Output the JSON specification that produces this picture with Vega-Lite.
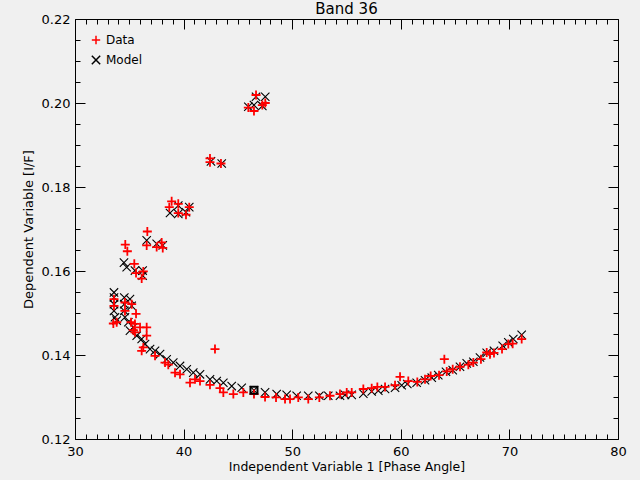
{
  "$schema": "https://vega.github.io/schema/vega-lite/v6.json",
  "description": "Band 36: measured I/F (Data) and fitted values (Model) against phase angle, IDL-style boxed plot.",
  "width": 543,
  "height": 420,
  "autosize": "none",
  "padding": {"left": 75, "top": 19, "right": 22, "bottom": 41},
  "background": "#f0f0f0",
  "title": {"text": "Band 36", "font": "DejaVu Sans", "fontSize": 15, "fontWeight": "normal", "color": "black", "offset": -4},
  "config": {
    "view": {"stroke": "black", "strokeWidth": 1},
    "axis": {
      "domain": false,
      "grid": false,
      "labelFont": "DejaVu Sans",
      "labelFontSize": 13,
      "labelColor": "black",
      "tickColor": "black",
      "tickWidth": 1,
      "titleFont": "DejaVu Sans",
      "titleFontSize": 13,
      "titleFontWeight": "normal",
      "titleColor": "black"
    }
  },
  "datasets": {
    "pts": [
      {"angle": 45.96, "iof": 0.1991, "series": "Model"},
      {"angle": 46.48, "iof": 0.1995, "series": "Model"},
      {"angle": 46.67, "iof": 0.2015, "series": "Model"},
      {"angle": 47.25, "iof": 0.1993, "series": "Model"},
      {"angle": 47.52, "iof": 0.2015, "series": "Model"},
      {"angle": 42.52, "iof": 0.1861, "series": "Model"},
      {"angle": 43.51, "iof": 0.1856, "series": "Model"},
      {"angle": 38.75, "iof": 0.1738, "series": "Model"},
      {"angle": 39.51, "iof": 0.1756, "series": "Model"},
      {"angle": 39.51, "iof": 0.1736, "series": "Model"},
      {"angle": 40.22, "iof": 0.1740, "series": "Model"},
      {"angle": 40.52, "iof": 0.1752, "series": "Model"},
      {"angle": 36.60, "iof": 0.1673, "series": "Model"},
      {"angle": 37.52, "iof": 0.1665, "series": "Model"},
      {"angle": 38.08, "iof": 0.1661, "series": "Model"},
      {"angle": 34.51, "iof": 0.1620, "series": "Model"},
      {"angle": 34.76, "iof": 0.1609, "series": "Model"},
      {"angle": 35.52, "iof": 0.1601, "series": "Model"},
      {"angle": 36.23, "iof": 0.1601, "series": "Model"},
      {"angle": 36.23, "iof": 0.1589, "series": "Model"},
      {"angle": 33.59, "iof": 0.1549, "series": "Model"},
      {"angle": 33.59, "iof": 0.1537, "series": "Model"},
      {"angle": 33.59, "iof": 0.1521, "series": "Model"},
      {"angle": 33.59, "iof": 0.1505, "series": "Model"},
      {"angle": 33.68, "iof": 0.1490, "series": "Model"},
      {"angle": 33.84, "iof": 0.1482, "series": "Model"},
      {"angle": 34.54, "iof": 0.1537, "series": "Model"},
      {"angle": 34.54, "iof": 0.1521, "series": "Model"},
      {"angle": 34.54, "iof": 0.1505, "series": "Model"},
      {"angle": 35.06, "iof": 0.1533, "series": "Model"},
      {"angle": 35.22, "iof": 0.1517, "series": "Model"},
      {"angle": 34.60, "iof": 0.1490, "series": "Model"},
      {"angle": 34.91, "iof": 0.1478, "series": "Model"},
      {"angle": 35.06, "iof": 0.1458, "series": "Model"},
      {"angle": 35.37, "iof": 0.1466, "series": "Model"},
      {"angle": 35.68, "iof": 0.1446, "series": "Model"},
      {"angle": 36.14, "iof": 0.1438, "series": "Model"},
      {"angle": 36.45, "iof": 0.1426, "series": "Model"},
      {"angle": 36.91, "iof": 0.1414, "series": "Model"},
      {"angle": 37.37, "iof": 0.1410, "series": "Model"},
      {"angle": 37.83, "iof": 0.1402, "series": "Model"},
      {"angle": 38.44, "iof": 0.1390, "series": "Model"},
      {"angle": 39.05, "iof": 0.1382, "series": "Model"},
      {"angle": 39.67, "iof": 0.1374, "series": "Model"},
      {"angle": 40.29, "iof": 0.1366, "series": "Model"},
      {"angle": 40.89, "iof": 0.1358, "series": "Model"},
      {"angle": 41.51, "iof": 0.1354, "series": "Model"},
      {"angle": 42.43, "iof": 0.1342, "series": "Model"},
      {"angle": 43.05, "iof": 0.1338, "series": "Model"},
      {"angle": 43.66, "iof": 0.1334, "series": "Model"},
      {"angle": 44.43, "iof": 0.1326, "series": "Model"},
      {"angle": 45.35, "iof": 0.1322, "series": "Model"},
      {"angle": 46.48, "iof": 0.1316, "series": "Model"},
      {"angle": 47.50, "iof": 0.1311, "series": "Model"},
      {"angle": 48.57, "iof": 0.1307, "series": "Model"},
      {"angle": 49.49, "iof": 0.1305, "series": "Model"},
      {"angle": 50.41, "iof": 0.1303, "series": "Model"},
      {"angle": 51.48, "iof": 0.1303, "series": "Model"},
      {"angle": 52.50, "iof": 0.1303, "series": "Model"},
      {"angle": 53.32, "iof": 0.1303, "series": "Model"},
      {"angle": 54.40, "iof": 0.1303, "series": "Model"},
      {"angle": 54.86, "iof": 0.1305, "series": "Model"},
      {"angle": 55.48, "iof": 0.1305, "series": "Model"},
      {"angle": 56.55, "iof": 0.1308, "series": "Model"},
      {"angle": 57.32, "iof": 0.1313, "series": "Model"},
      {"angle": 57.93, "iof": 0.1315, "series": "Model"},
      {"angle": 58.55, "iof": 0.1319, "series": "Model"},
      {"angle": 59.47, "iof": 0.1322, "series": "Model"},
      {"angle": 60.08, "iof": 0.1328, "series": "Model"},
      {"angle": 60.60, "iof": 0.1331, "series": "Model"},
      {"angle": 61.46, "iof": 0.1334, "series": "Model"},
      {"angle": 62.23, "iof": 0.1340, "series": "Model"},
      {"angle": 62.85, "iof": 0.1346, "series": "Model"},
      {"angle": 63.45, "iof": 0.1352, "series": "Model"},
      {"angle": 64.16, "iof": 0.1360, "series": "Model"},
      {"angle": 64.78, "iof": 0.1364, "series": "Model"},
      {"angle": 65.45, "iof": 0.1372, "series": "Model"},
      {"angle": 66.07, "iof": 0.1380, "series": "Model"},
      {"angle": 66.68, "iof": 0.1384, "series": "Model"},
      {"angle": 67.29, "iof": 0.1394, "series": "Model"},
      {"angle": 67.91, "iof": 0.1405, "series": "Model"},
      {"angle": 68.58, "iof": 0.1410, "series": "Model"},
      {"angle": 69.38, "iof": 0.1422, "series": "Model"},
      {"angle": 69.90, "iof": 0.1430, "series": "Model"},
      {"angle": 70.36, "iof": 0.1438, "series": "Model"},
      {"angle": 71.13, "iof": 0.1448, "series": "Model"},
      {"angle": 45.96, "iof": 0.1989, "series": "Data"},
      {"angle": 46.48, "iof": 0.1981, "series": "Data"},
      {"angle": 46.67, "iof": 0.2019, "series": "Data"},
      {"angle": 47.25, "iof": 0.1995, "series": "Data"},
      {"angle": 47.52, "iof": 0.2000, "series": "Data"},
      {"angle": 42.43, "iof": 0.1868, "series": "Data"},
      {"angle": 42.43, "iof": 0.1859, "series": "Data"},
      {"angle": 43.44, "iof": 0.1856, "series": "Data"},
      {"angle": 38.90, "iof": 0.1766, "series": "Data"},
      {"angle": 38.68, "iof": 0.1752, "series": "Data"},
      {"angle": 39.51, "iof": 0.1760, "series": "Data"},
      {"angle": 39.51, "iof": 0.1738, "series": "Data"},
      {"angle": 40.22, "iof": 0.1734, "series": "Data"},
      {"angle": 40.52, "iof": 0.1752, "series": "Data"},
      {"angle": 36.66, "iof": 0.1694, "series": "Data"},
      {"angle": 36.60, "iof": 0.1661, "series": "Data"},
      {"angle": 37.52, "iof": 0.1657, "series": "Data"},
      {"angle": 37.98, "iof": 0.1668, "series": "Data"},
      {"angle": 38.08, "iof": 0.1655, "series": "Data"},
      {"angle": 34.63, "iof": 0.1663, "series": "Data"},
      {"angle": 34.82, "iof": 0.1647, "series": "Data"},
      {"angle": 35.46, "iof": 0.1617, "series": "Data"},
      {"angle": 35.62, "iof": 0.1595, "series": "Data"},
      {"angle": 36.29, "iof": 0.1599, "series": "Data"},
      {"angle": 36.14, "iof": 0.1582, "series": "Data"},
      {"angle": 33.59, "iof": 0.1533, "series": "Data"},
      {"angle": 33.59, "iof": 0.1517, "series": "Data"},
      {"angle": 33.53, "iof": 0.1475, "series": "Data"},
      {"angle": 33.84, "iof": 0.1478, "series": "Data"},
      {"angle": 34.60, "iof": 0.1525, "series": "Data"},
      {"angle": 34.60, "iof": 0.1505, "series": "Data"},
      {"angle": 35.22, "iof": 0.1521, "series": "Data"},
      {"angle": 35.16, "iof": 0.1478, "series": "Data"},
      {"angle": 35.62, "iof": 0.1498, "series": "Data"},
      {"angle": 35.52, "iof": 0.1474, "series": "Data"},
      {"angle": 35.99, "iof": 0.1466, "series": "Data"},
      {"angle": 36.60, "iof": 0.1466, "series": "Data"},
      {"angle": 36.60, "iof": 0.1446, "series": "Data"},
      {"angle": 35.37, "iof": 0.1459, "series": "Data"},
      {"angle": 35.52, "iof": 0.1454, "series": "Data"},
      {"angle": 36.29, "iof": 0.1418, "series": "Data"},
      {"angle": 36.14, "iof": 0.1410, "series": "Data"},
      {"angle": 37.37, "iof": 0.1398, "series": "Data"},
      {"angle": 38.29, "iof": 0.1382, "series": "Data"},
      {"angle": 38.59, "iof": 0.1377, "series": "Data"},
      {"angle": 39.21, "iof": 0.1358, "series": "Data"},
      {"angle": 39.67, "iof": 0.1354, "series": "Data"},
      {"angle": 40.59, "iof": 0.1334, "series": "Data"},
      {"angle": 41.05, "iof": 0.1342, "series": "Data"},
      {"angle": 41.51, "iof": 0.1338, "series": "Data"},
      {"angle": 42.43, "iof": 0.1329, "series": "Data"},
      {"angle": 42.89, "iof": 0.1414, "series": "Data"},
      {"angle": 43.35, "iof": 0.1321, "series": "Data"},
      {"angle": 43.66, "iof": 0.1311, "series": "Data"},
      {"angle": 44.58, "iof": 0.1307, "series": "Data"},
      {"angle": 45.50, "iof": 0.1311, "series": "Data"},
      {"angle": 46.48, "iof": 0.1307, "series": "Data"},
      {"angle": 47.50, "iof": 0.1300, "series": "Data"},
      {"angle": 48.51, "iof": 0.1299, "series": "Data"},
      {"angle": 49.34, "iof": 0.1295, "series": "Data"},
      {"angle": 49.80, "iof": 0.1295, "series": "Data"},
      {"angle": 50.56, "iof": 0.1299, "series": "Data"},
      {"angle": 51.48, "iof": 0.1295, "series": "Data"},
      {"angle": 52.50, "iof": 0.1299, "series": "Data"},
      {"angle": 53.48, "iof": 0.1303, "series": "Data"},
      {"angle": 54.40, "iof": 0.1307, "series": "Data"},
      {"angle": 55.02, "iof": 0.1311, "series": "Data"},
      {"angle": 55.48, "iof": 0.1311, "series": "Data"},
      {"angle": 56.55, "iof": 0.1319, "series": "Data"},
      {"angle": 57.32, "iof": 0.1321, "series": "Data"},
      {"angle": 57.84, "iof": 0.1324, "series": "Data"},
      {"angle": 58.55, "iof": 0.1324, "series": "Data"},
      {"angle": 59.47, "iof": 0.1328, "series": "Data"},
      {"angle": 59.93, "iof": 0.1348, "series": "Data"},
      {"angle": 60.69, "iof": 0.1338, "series": "Data"},
      {"angle": 61.52, "iof": 0.1336, "series": "Data"},
      {"angle": 62.23, "iof": 0.1342, "series": "Data"},
      {"angle": 62.75, "iof": 0.1350, "series": "Data"},
      {"angle": 63.52, "iof": 0.1352, "series": "Data"},
      {"angle": 64.01, "iof": 0.1390, "series": "Data"},
      {"angle": 64.23, "iof": 0.1361, "series": "Data"},
      {"angle": 64.78, "iof": 0.1366, "series": "Data"},
      {"angle": 65.45, "iof": 0.1372, "series": "Data"},
      {"angle": 66.22, "iof": 0.1377, "series": "Data"},
      {"angle": 66.68, "iof": 0.1382, "series": "Data"},
      {"angle": 67.38, "iof": 0.1390, "series": "Data"},
      {"angle": 67.91, "iof": 0.1406, "series": "Data"},
      {"angle": 68.21, "iof": 0.1402, "series": "Data"},
      {"angle": 68.58, "iof": 0.1405, "series": "Data"},
      {"angle": 69.32, "iof": 0.1414, "series": "Data"},
      {"angle": 69.90, "iof": 0.1426, "series": "Data"},
      {"angle": 70.30, "iof": 0.1427, "series": "Data"},
      {"angle": 71.13, "iof": 0.1438, "series": "Data"}
    ],
    "marked": [
      {"angle": 46.48, "iof": 0.1316}
    ]
  },
  "layer": [
    {
      "data": {"name": "pts"},
      "transform": [{"filter": "datum.series === 'Model'"}],
      "mark": {"type": "point", "filled": false, "size": 70, "strokeWidth": 1.1, "opacity": 1},
      "encoding": {
        "x": {
          "field": "angle", "type": "quantitative",
          "scale": {"domain": [30, 80], "nice": false, "zero": false},
          "axis": {"orient": "bottom", "values": [30, 40, 50, 60, 70, 80], "tickSize": -10, "labelPadding": 16, "labelFlush": false,
                   "title": "Independent Variable 1 [Phase Angle]", "titleFontSize": 12.5, "titlePadding": 2}
        },
        "y": {
          "field": "iof", "type": "quantitative",
          "scale": {"domain": [0.12, 0.22], "nice": false, "zero": false},
          "axis": {"orient": "left", "values": [0.12, 0.14, 0.16, 0.18, 0.2, 0.22], "format": ".2f", "tickSize": -10, "labelPadding": 15, "labelFlush": false,
                   "title": "Dependent Variable [I/F]", "titlePadding": 6}
        },
        "color": {
          "field": "series", "type": "nominal",
          "scale": {"domain": ["Data", "Model"], "range": ["#ff0000", "#000000"]},
          "legend": {"orient": "none", "legendX": 15, "legendY": 15, "title": null,
                     "labelFont": "DejaVu Sans", "labelFontSize": 12, "labelColor": "black",
                     "symbolStrokeWidth": 1.5, "symbolSize": 70, "rowPadding": 4, "labelOffset": 4}
        },
        "shape": {
          "field": "series", "type": "nominal",
          "scale": {"domain": ["Data", "Model"], "range": ["M-1,0H1M0,-1V1", "M-1,-1L1,1M1,-1L-1,1"]}
        }
      }
    },
    {
      "data": {"name": "pts"},
      "transform": [{"filter": "datum.series === 'Data'"}],
      "mark": {"type": "point", "filled": false, "size": 81, "strokeWidth": 1.8, "opacity": 1},
      "encoding": {
        "x": {
          "field": "angle", "type": "quantitative",
          "scale": {"domain": [30, 80], "nice": false, "zero": false},
          "axis": {"orient": "top", "values": [30, 40, 50, 60, 70, 80], "tickSize": -10, "labels": false, "title": null}
        },
        "y": {
          "field": "iof", "type": "quantitative",
          "scale": {"domain": [0.12, 0.22], "nice": false, "zero": false},
          "axis": {"orient": "right", "values": [0.12, 0.14, 0.16, 0.18, 0.2, 0.22], "tickSize": -10, "labels": false, "title": null}
        },
        "color": {"field": "series", "type": "nominal"},
        "shape": {"field": "series", "type": "nominal"}
      }
    },
    {
      "data": {"name": "marked"},
      "mark": {"type": "square", "filled": false, "size": 49, "strokeWidth": 2, "color": "black", "opacity": 1},
      "encoding": {
        "x": {
          "field": "angle", "type": "quantitative",
          "scale": {"domain": [30, 80], "nice": false, "zero": false},
          "axis": {"orient": "bottom", "values": [31, 32, 33, 34, 35, 36, 37, 38, 39, 41, 42, 43, 44, 45, 46, 47, 48, 49, 51, 52, 53, 54, 55, 56, 57, 58, 59, 61, 62, 63, 64, 65, 66, 67, 68, 69, 71, 72, 73, 74, 75, 76, 77, 78, 79],
                   "tickSize": -5, "labels": false, "title": null}
        },
        "y": {
          "field": "iof", "type": "quantitative",
          "scale": {"domain": [0.12, 0.22], "nice": false, "zero": false},
          "axis": {"orient": "left", "values": [0.125, 0.13, 0.135, 0.145, 0.15, 0.155, 0.165, 0.17, 0.175, 0.185, 0.19, 0.195, 0.205, 0.21, 0.215],
                   "tickSize": -5, "labels": false, "title": null}
        }
      }
    },
    {
      "data": {"name": "marked"},
      "mark": {"type": "square", "opacity": 0},
      "encoding": {
        "x": {
          "field": "angle", "type": "quantitative",
          "scale": {"domain": [30, 80], "nice": false, "zero": false},
          "axis": {"orient": "top", "values": [31, 32, 33, 34, 35, 36, 37, 38, 39, 41, 42, 43, 44, 45, 46, 47, 48, 49, 51, 52, 53, 54, 55, 56, 57, 58, 59, 61, 62, 63, 64, 65, 66, 67, 68, 69, 71, 72, 73, 74, 75, 76, 77, 78, 79],
                   "tickSize": -5, "labels": false, "title": null}
        },
        "y": {
          "field": "iof", "type": "quantitative",
          "scale": {"domain": [0.12, 0.22], "nice": false, "zero": false},
          "axis": {"orient": "right", "values": [0.125, 0.13, 0.135, 0.145, 0.15, 0.155, 0.165, 0.17, 0.175, 0.185, 0.19, 0.195, 0.205, 0.21, 0.215],
                   "tickSize": -5, "labels": false, "title": null}
        }
      }
    }
  ],
  "resolve": {"axis": {"x": "independent", "y": "independent"}}
}
